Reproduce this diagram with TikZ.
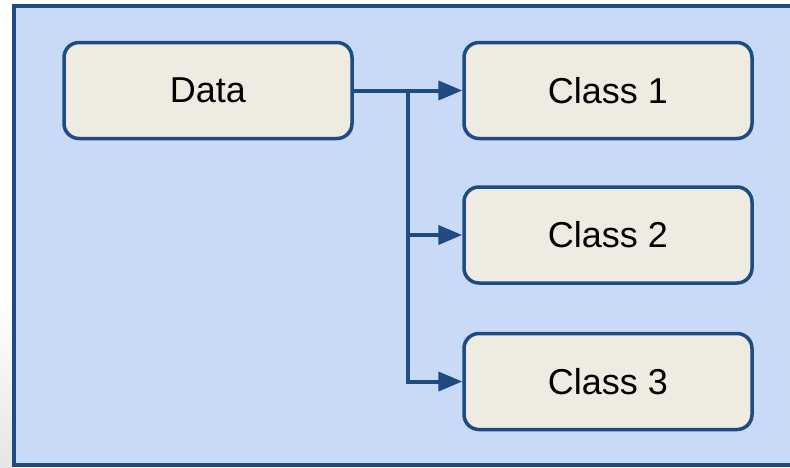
\documentclass[tikz,border=0pt]{standalone}
\usepackage{fontspec}
\setmainfont{Liberation Sans}
\usetikzlibrary{arrows.meta}
\definecolor{bgblue}{HTML}{C9DAF8}
\definecolor{edge}{HTML}{1F4A82}
\definecolor{boxfill}{HTML}{EEECE1}
\tikzset{
  classbox/.style={draw=edge, fill=boxfill, line width=3.5pt, rounded corners=15pt,
    minimum width=288pt, minimum height=96pt, inner sep=0pt,
    font=\fontsize{36}{43}\selectfont, text=black},
  conn/.style={draw=edge, line width=4pt},
  arr/.style={conn, -{Triangle[length=24pt,width=19pt]}}
}
\begin{document}
\begin{tikzpicture}[x=1pt,y=-1pt]
\useasboundingbox (0,0) rectangle (790,467);
\shade[top color=white, bottom color=white] (0,0) rectangle (14,300);
\shade[top color=white, bottom color=black!10] (0,300) rectangle (14,467);
\begin{scope}
\clip (0,0) rectangle (790,467);
\draw[draw=edge, fill=bgblue, line width=4pt] (14,6) rectangle (810,465);
\end{scope}
\node[classbox] (data) at (208,90.5) {Data};
\node[classbox] (c1) at (608,90.5) {Class 1};
\node[classbox] (c2) at (608,235) {Class 2};
\node[classbox] (c3) at (608,381.5) {Class 3};
\coordinate (split) at (408,90.5);
\draw[arr] (data.east) -- (c1.west);
\draw[conn] (split) -- (split |- c3.west);
\draw[arr] (split |- c2.west) -- (c2.west);
\draw[arr, line cap=rect] (split |- c3.west) -- (c3.west);
\end{tikzpicture}
\end{document}
